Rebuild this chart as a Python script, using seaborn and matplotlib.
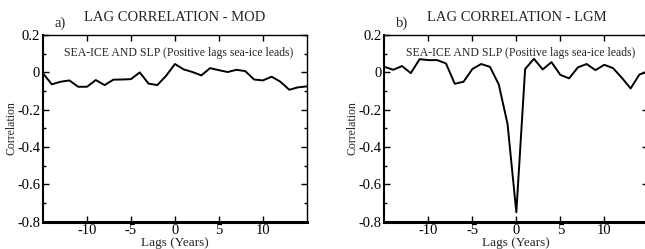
import seaborn as sns
import numpy as np
import pandas as pd
import matplotlib.pyplot as plt
from matplotlib.ticker import MultipleLocator, FuncFormatter

# lags in years, -15 .. 15
lags = list(range(-15, 16))

# lag correlation, sea-ice vs SLP
corr_mod = [-0.005, -0.064, -0.050, -0.043, -0.077, -0.077, -0.041, -0.068,
            -0.039, -0.038, -0.036, 0.000, -0.060, -0.068, -0.018, 0.045,
            0.016, 0.002, -0.016, 0.023, 0.012, 0.002, 0.014, 0.007,
            -0.038, -0.043, -0.023, -0.050, -0.093, -0.080, -0.075]
corr_lgm = [0.030, 0.014, 0.034, -0.004, 0.071, 0.066, 0.066, 0.048,
            -0.061, -0.050, 0.018, 0.045, 0.030, -0.064, -0.276, -0.750,
            0.018, 0.073, 0.016, 0.055, -0.013, -0.032, 0.027, 0.045,
            0.012, 0.041, 0.023, -0.029, -0.086, -0.011, 0.005]

panels = [("a)", "LAG CORRELATION - MOD", corr_mod),
          ("b)", "LAG CORRELATION - LGM", corr_lgm)]

sns.set_style("ticks")
plt.rcParams['font.family'] = ['Liberation Serif', 'DejaVu Serif']
plt.rcParams['axes.unicode_minus'] = False

fig = plt.figure(figsize=(6.45, 2.49), dpi=100)
lefts = [0.0667, 0.596]

for left, (tag, title, vals) in zip(lefts, panels):
    ax = fig.add_axes([left, 0.110, 0.409, 0.749])
    df = pd.DataFrame({"lag": lags, "corr": vals})
    sns.lineplot(data=df, x="lag", y="corr", ax=ax, color="black", linewidth=1.4)

    ax.set_xlim(-15, 15)
    ax.set_ylim(-0.8, 0.2)
    ax.set_xticks([-10, -5, 0, 5, 10])
    ax.yaxis.set_major_locator(MultipleLocator(0.2))
    ax.yaxis.set_minor_locator(MultipleLocator(0.1))
    fmt = FuncFormatter(lambda v, p: "%g" % round(v, 2))
    ax.xaxis.set_major_formatter(fmt)
    ax.yaxis.set_major_formatter(fmt)
    ax.tick_params(which="both", direction="in", top=True, right=True,
                   labelsize=10.5, pad=2, color="black", labelcolor="black")
    ax.tick_params(which="major", length=4, width=1)
    ax.tick_params(which="minor", length=2.5, width=1)

    for side, lw in [("left", 1.5), ("bottom", 2.2), ("top", 1.0), ("right", 1.0)]:
        ax.spines[side].set_linewidth(lw)
        ax.spines[side].set_color("black")

    ax.set_xlabel("Lags (Years)", fontsize=9.5, labelpad=0)
    ax.set_ylabel("Correlation", fontsize=8.5, labelpad=0)
    ax.set_title(title, fontsize=10.5, pad=10)
    ax.text(0.045, 1.025, tag, transform=ax.transAxes, fontsize=10.5,
            ha="left", va="bottom")
    ax.text(0.515, 0.905, "SEA-ICE AND SLP (Positive lags sea-ice leads)",
            transform=ax.transAxes, fontsize=8.5, ha="center", va="center")

fig.savefig("out.png", dpi=100)
